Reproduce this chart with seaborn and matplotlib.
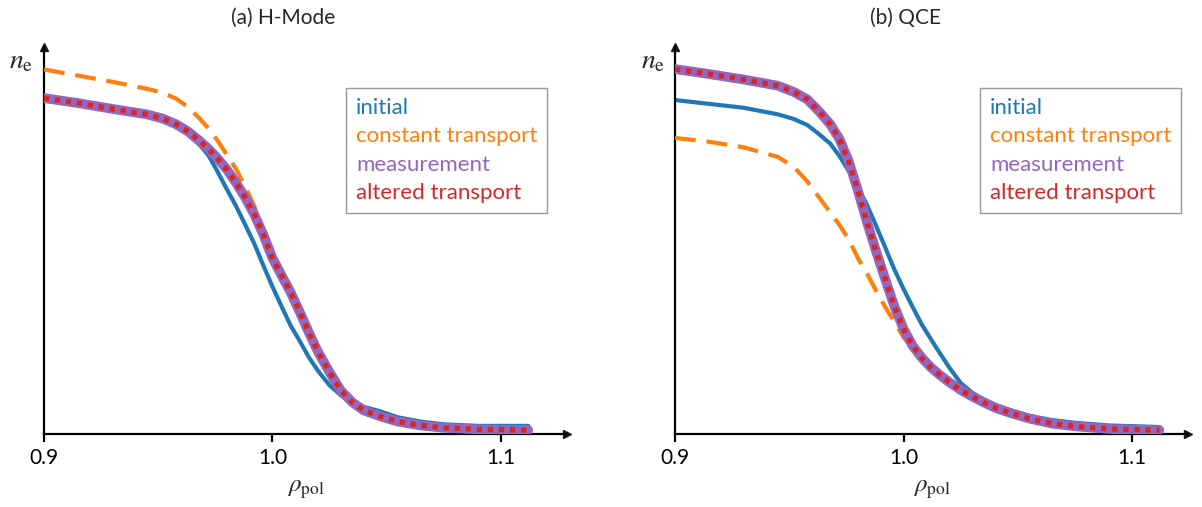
import numpy as np
import pandas as pd
import seaborn as sns
import matplotlib.pyplot as plt

# rho_pol grid (shared by all curves)
rho = [0.900, 0.915, 0.930, 0.945, 0.952, 0.958, 0.963, 0.968, 0.972, 0.976,
       0.980, 0.984, 0.988, 0.992, 0.996, 1.000, 1.004, 1.008, 1.012, 1.016,
       1.020, 1.025, 1.030, 1.035, 1.040, 1.047, 1.055, 1.065, 1.075, 1.090, 1.112]

# (a) H-Mode
hm_initial = [0.868, 0.855, 0.840, 0.826, 0.815, 0.798, 0.775, 0.748, 0.720, 0.678,
              0.633, 0.590, 0.542, 0.493, 0.436, 0.381, 0.330, 0.280, 0.240, 0.198,
              0.163, 0.126, 0.100, 0.083, 0.070, 0.059, 0.043, 0.032, 0.025, 0.021, 0.021]
hm_const = [0.942, 0.926, 0.910, 0.892, 0.882, 0.866, 0.845, 0.816, 0.790, 0.758,
            0.722, 0.686, 0.640, 0.590, 0.520, 0.458, 0.410, 0.366, 0.315, 0.262,
            0.212, 0.160, 0.112, 0.082, 0.061, 0.046, 0.032, 0.022, 0.016, 0.012, 0.010]
hm_meas = [0.868, 0.855, 0.840, 0.826, 0.815, 0.800, 0.782, 0.758, 0.737, 0.712,
           0.684, 0.650, 0.612, 0.568, 0.516, 0.455, 0.410, 0.366, 0.315, 0.262,
           0.212, 0.160, 0.112, 0.082, 0.061, 0.046, 0.032, 0.022, 0.016, 0.012, 0.010]
hm_altered = hm_meas

# (b) QCE
qce_initial = [0.863, 0.853, 0.843, 0.826, 0.814, 0.798, 0.775, 0.750, 0.718, 0.680,
               0.638, 0.592, 0.538, 0.482, 0.425, 0.375, 0.328, 0.283, 0.245, 0.208,
               0.172, 0.132, 0.107, 0.090, 0.076, 0.061, 0.047, 0.036, 0.029, 0.022, 0.018]
qce_const = [0.765, 0.755, 0.741, 0.716, 0.690, 0.652, 0.612, 0.572, 0.540, 0.503,
             0.455, 0.415, 0.370, 0.328, 0.290, 0.250, 0.222, 0.197, 0.172, 0.152,
             0.134, 0.114, 0.097, 0.082, 0.068, 0.054, 0.040, 0.027, 0.020, 0.013, 0.010]
qce_meas = [0.943, 0.930, 0.916, 0.900, 0.884, 0.864, 0.834, 0.800, 0.762, 0.705,
            0.630, 0.548, 0.472, 0.400, 0.330, 0.272, 0.228, 0.197, 0.172, 0.152,
            0.134, 0.114, 0.097, 0.082, 0.068, 0.054, 0.040, 0.027, 0.020, 0.013, 0.010]
qce_altered = qce_meas

xticks = [0.9, 1.0, 1.1]
labels = ["initial", "constant transport", "measurement", "altered transport"]
colors = ["#1f77b4", "#ff7f0e", "#9467bd", "#d62728"]

sns.set_theme(style="ticks")
plt.rcParams["font.family"] = ["Lato", "DejaVu Sans"]
plt.rcParams["mathtext.fontset"] = "stix"

fig = plt.figure(figsize=(12.02, 5.07), dpi=100)
ax1 = fig.add_axes([44 / 1202, 73 / 507, 523 / 1202, 387 / 507])
ax2 = fig.add_axes([675 / 1202, 73 / 507, 513 / 1202, 387 / 507])

panels = [
    (ax1, hm_initial, hm_const, hm_meas, hm_altered, 1.129, "(a) H-Mode", 283, 346),
    (ax2, qce_initial, qce_const, qce_meas, qce_altered, 1.1245, "(b) QCE", 905, 980),
]

for ax, ini, con, mea, alt, xmax, title, tx, lx in panels:
    sns.lineplot(x=rho, y=ini, ax=ax, color=colors[0], lw=3, label=labels[0], zorder=2)
    sns.lineplot(x=rho, y=con, ax=ax, color=colors[1], lw=3, label=labels[1], zorder=3,
                 dashes=False, linestyle=(0, (5, 2.6)))
    sns.lineplot(x=rho, y=mea, ax=ax, color=colors[2], lw=7, label=labels[2], zorder=4)
    sns.lineplot(x=rho, y=alt, ax=ax, color=colors[3], lw=3.8, label=labels[3], zorder=5,
                 dashes=False, linestyle=(0, (1, 1.1)))

    ax.set_xlim(0.9, xmax)
    ax.set_ylim(0, 1)
    ax.set_xticks(xticks)
    ax.set_xticklabels(["0.9", "1.0", "1.1"])
    ax.set_yticks([])
    ax.tick_params(axis="x", direction="out", length=6, width=1.6, labelsize=15,
                   pad=4, color="black", labelcolor="black")
    for side in ["top", "right"]:
        ax.spines[side].set_visible(False)
    for side in ["left", "bottom"]:
        ax.spines[side].set_linewidth(1.6)
        ax.spines[side].set_color("black")
    ax.plot(1, 0, ">k", ms=6, transform=ax.transAxes, clip_on=False)
    ax.plot(0, 1, "^k", ms=6, transform=ax.transAxes, clip_on=False)

    ax.set_xlabel(r"$\rho_\mathrm{pol}$", fontsize=18, labelpad=7)
    ax.set_ylabel("")
    ax.text(-0.02, 0.965, r"$\mathit{n}_\mathrm{e}$", fontsize=20, transform=ax.transAxes,
            ha="right", va="center")

    fig.text(tx / 1202, 1 - 18 / 507, title, fontsize=15, ha="center", va="center")

    leg = ax.legend(loc="upper left", bbox_to_anchor=(lx / 1202, 1 - 88 / 507),
                    bbox_transform=fig.transFigure, handlelength=0, handletextpad=0,
                    fontsize=16, frameon=True, fancybox=False, borderpad=0.45,
                    labelspacing=0.38, borderaxespad=0)
    leg.get_frame().set_edgecolor("#7f7f7f")
    leg.get_frame().set_linewidth(1.0)
    for h in leg.legend_handles:
        h.set_visible(False)
    for txt, c in zip(leg.get_texts(), colors):
        txt.set_color(c)

fig.savefig("out.png", dpi=100)
